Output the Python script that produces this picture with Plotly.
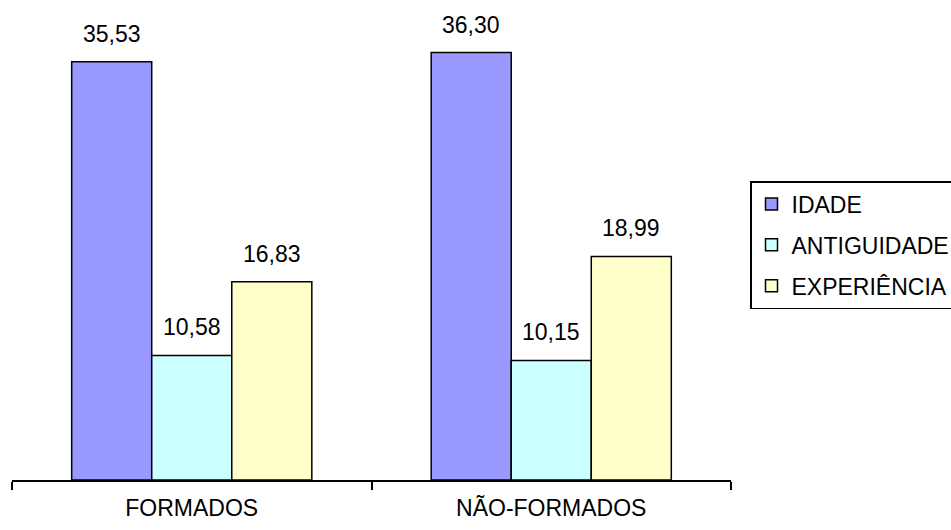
import plotly.graph_objects as go

# Médias por grupo (anos)
categorias = ["FORMADOS", "NÃO-FORMADOS"]
series = ["IDADE", "ANTIGUIDADE", "EXPERIÊNCIA"]
idade = [35.53, 36.30]
antiguidade = [10.58, 10.15]
experiencia = [16.83, 18.99]

valores = [idade, antiguidade, experiencia]
cores = ["#9999FF", "#CCFFFF", "#FFFFCC"]

FONT = "Liberation Sans, Arial, sans-serif"
FS = 23

W, H = 951, 530
M_L, M_R, M_T, M_B = 12, 220, 9, 50
BARGAP = 0.332

fig = go.Figure()
for nome, vals, cor in zip(series, valores, cores):
    fig.add_trace(go.Bar(
        x=categorias, y=vals, name=nome, legendgroup=nome,
        marker=dict(color=cor, line=dict(color="black", width=1.5)),
        hoverinfo="skip",
    ))

# Rótulos de valor acima de cada barra
plot_w = W - M_L - M_R
bar_px = plot_w / len(categorias) * (1 - BARGAP) / len(series)
annotations = []
for i, vals in enumerate(valores):
    for cat, v in zip(categorias, vals):
        annotations.append(dict(
            x=cat, y=v, xref="x", yref="y",
            text=f"{v:.2f}".replace(".", ","),
            showarrow=False, yanchor="bottom",
            xshift=(i - (len(series) - 1) / 2) * bar_px, yshift=13,
            font=dict(family=FONT, size=FS, color="black"),
        ))

fig.update_layout(
    width=W, height=H,
    margin=dict(l=M_L, r=M_R, t=M_T, b=M_B, autoexpand=False),
    paper_bgcolor="white", plot_bgcolor="white",
    barmode="group", bargap=BARGAP, bargroupgap=0,
    font=dict(family=FONT, size=FS, color="black"),
    showlegend=True,
    legend=dict(
        x=(750 - M_L) / plot_w, xanchor="left",
        y=(H - M_B - 181) / (H - M_T - M_B), yanchor="top",
        bordercolor="black", borderwidth=1.5, bgcolor="white",
        font=dict(family=FONT, size=FS, color="black"),
        traceorder="grouped", tracegroupgap=8, itemwidth=30,
    ),
    annotations=annotations,
    xaxis=dict(
        type="category", range=[-0.5, 1.5],
        showline=True, linecolor="black", linewidth=2,
        ticks="outside", tickson="boundaries", ticklen=8,
        tickwidth=2, tickcolor="black", ticklabelstandoff=6,
        showgrid=False, zeroline=False,
        tickfont=dict(family=FONT, size=FS, color="black"),
    ),
    yaxis=dict(range=[0, 40], visible=False, showgrid=False, zeroline=False),
)

fig.write_html("out.html")
